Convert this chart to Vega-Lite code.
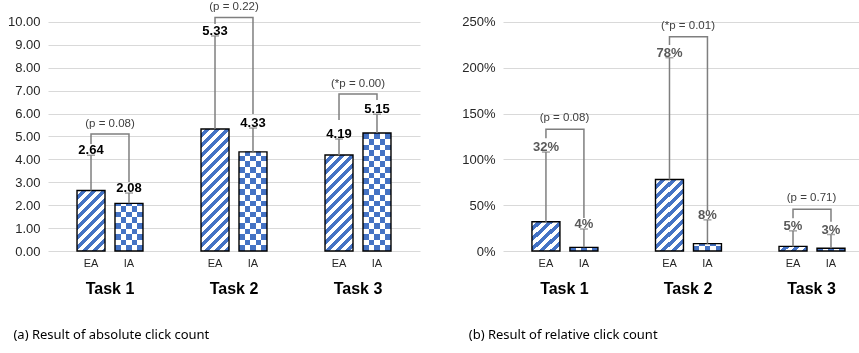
{
"$schema": "https://vega.github.io/schema/vega-lite/v6.json",
"padding": {"left": 7, "top": 0, "right": 0, "bottom": 0},
"background": "#ffffff",
"spacing": 41,
"config": {"view": {"stroke": null}, "font": "Liberation Sans"},
"datasets": {
 "absMain": [
  {"task": "Task 1", "group": "EA", "mean": 2.64, "upper": 4.18, "label": "2.64"},
  {"task": "Task 1", "group": "IA", "mean": 2.08, "upper": 2.53, "label": "2.08"},
  {"task": "Task 2", "group": "EA", "mean": 5.33, "upper": 9.39, "label": "5.33"},
  {"task": "Task 2", "group": "IA", "mean": 4.33, "upper": 5.37, "label": "4.33"},
  {"task": "Task 3", "group": "EA", "mean": 4.19, "upper": 4.89, "label": "4.19"},
  {"task": "Task 3", "group": "IA", "mean": 5.15, "upper": 5.97, "label": "5.15"}
 ],
 "absBr": [
  {"task": "Task 1", "group": "EA", "val": 4.67, "ord": 0},
  {"task": "Task 1", "group": "EA", "val": 5.11, "ord": 1},
  {"task": "Task 1", "group": "IA", "val": 5.11, "ord": 2},
  {"task": "Task 1", "group": "IA", "val": 3.01, "ord": 3},
  {"task": "Task 2", "group": "EA", "val": 9.91, "ord": 0},
  {"task": "Task 2", "group": "EA", "val": 10.2, "ord": 1},
  {"task": "Task 2", "group": "IA", "val": 10.2, "ord": 2},
  {"task": "Task 2", "group": "IA", "val": 5.98, "ord": 3},
  {"task": "Task 3", "group": "EA", "val": 5.72, "ord": 0},
  {"task": "Task 3", "group": "EA", "val": 6.86, "ord": 1},
  {"task": "Task 3", "group": "IA", "val": 6.86, "ord": 2},
  {"task": "Task 3", "group": "IA", "val": 6.59, "ord": 3}
 ],
 "absP": [
  {"task": "Task 1", "level": 5.11, "p": "(p = 0.08)"},
  {"task": "Task 2", "level": 10.2, "p": "(p = 0.22)"},
  {"task": "Task 3", "level": 6.86, "p": "(*p = 0.00)"}
 ],
 "relMain": [
  {"task": "Task 1", "group": "EA", "mean": 32, "upper": 108, "label": "32%"},
  {"task": "Task 1", "group": "IA", "mean": 4, "upper": 24, "label": "4%"},
  {"task": "Task 2", "group": "EA", "mean": 78, "upper": 211, "label": "78%"},
  {"task": "Task 2", "group": "IA", "mean": 8, "upper": 34, "label": "8%"},
  {"task": "Task 3", "group": "EA", "mean": 5, "upper": 22, "label": "5%"},
  {"task": "Task 3", "group": "IA", "mean": 3, "upper": 18, "label": "3%"}
 ],
 "relBr": [
  {"task": "Task 1", "group": "EA", "val": 123, "ord": 0},
  {"task": "Task 1", "group": "EA", "val": 133, "ord": 1},
  {"task": "Task 1", "group": "IA", "val": 133, "ord": 2},
  {"task": "Task 1", "group": "IA", "val": 36, "ord": 3},
  {"task": "Task 2", "group": "EA", "val": 225, "ord": 0},
  {"task": "Task 2", "group": "EA", "val": 234, "ord": 1},
  {"task": "Task 2", "group": "IA", "val": 234, "ord": 2},
  {"task": "Task 2", "group": "IA", "val": 44.8, "ord": 3},
  {"task": "Task 3", "group": "EA", "val": 35.7, "ord": 0},
  {"task": "Task 3", "group": "EA", "val": 45.5, "ord": 1},
  {"task": "Task 3", "group": "IA", "val": 45.5, "ord": 2},
  {"task": "Task 3", "group": "IA", "val": 32, "ord": 3}
 ],
 "relP": [
  {"task": "Task 1", "level": 133, "p": "(p = 0.08)"},
  {"task": "Task 2", "level": 234, "p": "(*p = 0.01)"},
  {"task": "Task 3", "level": 45.5, "p": "(p = 0.71)"}
 ]
},
"hconcat": [
 {
  "width": 372, "height": 251,
  "data": {"name": "absMain"},
  "title": {"text": "(a) Result of absolute click count", "orient": "bottom", "anchor": "start", "frame": "bounds", "dx": 6, "offset": 33, "font": "Noto Sans", "fontSize": 13, "fontWeight": "normal", "color": "#000"},
  "encoding": {"x": {"field": "task", "type": "nominal", "title": null, "scale": {"paddingInner": 0.468, "paddingOuter": 0.234}, "axis": {"labelAngle": 0, "labelFontSize": 16, "labelFontWeight": "bold", "labelColor": "#000", "labelPadding": 29, "ticks": false, "domain": false, "grid": false}}},
  "layer": [
   {"transform": [{"filter": "datum.group === 'EA'"}],
    "mark": {"type": "bar"},
    "encoding": {
     "xOffset": {"field": "group", "type": "nominal", "scale": {"paddingInner": 0.263, "paddingOuter": 0}},
     "y": {"field": "mean", "type": "quantitative", "title": null, "scale": {"domain": [0, 10.96], "nice": false, "zero": true}, "axis": {"values": [0,1,2,3,4,5,6,7,8,9,10], "format": ".2f", "labelOverlap": false, "labelFontSize": 13, "labelColor": "#262626", "labelPadding": 8, "ticks": false, "domain": false, "gridColor": "#d9d9d9", "title": null}},
     "fill": {"condition": [
      {"test": "datum.task === 'Task 1'", "value": {"gradient": "linear", "x1": 0, "y1": 0, "x2": 1.0091, "y2": 2.1791, "stops": [{"offset":0,"color":"#fff"},{"offset":0.03125,"color":"#fff"},{"offset":0.03125,"color":"#4472c4"},{"offset":0.0625,"color":"#4472c4"},{"offset":0.0625,"color":"#fff"},{"offset":0.09375,"color":"#fff"},{"offset":0.09375,"color":"#4472c4"},{"offset":0.125,"color":"#4472c4"},{"offset":0.125,"color":"#fff"},{"offset":0.15625,"color":"#fff"},{"offset":0.15625,"color":"#4472c4"},{"offset":0.1875,"color":"#4472c4"},{"offset":0.1875,"color":"#fff"},{"offset":0.21875,"color":"#fff"},{"offset":0.21875,"color":"#4472c4"},{"offset":0.25,"color":"#4472c4"},{"offset":0.25,"color":"#fff"},{"offset":0.28125,"color":"#fff"},{"offset":0.28125,"color":"#4472c4"},{"offset":0.3125,"color":"#4472c4"},{"offset":0.3125,"color":"#fff"},{"offset":0.34375,"color":"#fff"},{"offset":0.34375,"color":"#4472c4"},{"offset":0.375,"color":"#4472c4"},{"offset":0.375,"color":"#fff"},{"offset":0.40625,"color":"#fff"},{"offset":0.40625,"color":"#4472c4"},{"offset":0.4375,"color":"#4472c4"},{"offset":0.4375,"color":"#fff"},{"offset":0.46875,"color":"#fff"},{"offset":0.46875,"color":"#4472c4"},{"offset":0.5,"color":"#4472c4"},{"offset":0.5,"color":"#fff"},{"offset":0.53125,"color":"#fff"},{"offset":0.53125,"color":"#4472c4"},{"offset":0.5625,"color":"#4472c4"},{"offset":0.5625,"color":"#fff"},{"offset":0.59375,"color":"#fff"},{"offset":0.59375,"color":"#4472c4"},{"offset":0.625,"color":"#4472c4"},{"offset":0.625,"color":"#fff"},{"offset":0.65625,"color":"#fff"},{"offset":0.65625,"color":"#4472c4"},{"offset":0.6875,"color":"#4472c4"},{"offset":0.6875,"color":"#fff"},{"offset":0.71875,"color":"#fff"},{"offset":0.71875,"color":"#4472c4"},{"offset":0.75,"color":"#4472c4"},{"offset":0.75,"color":"#fff"},{"offset":0.78125,"color":"#fff"},{"offset":0.78125,"color":"#4472c4"},{"offset":0.8125,"color":"#4472c4"},{"offset":0.8125,"color":"#fff"},{"offset":0.84375,"color":"#fff"},{"offset":0.84375,"color":"#4472c4"},{"offset":0.875,"color":"#4472c4"},{"offset":0.875,"color":"#fff"},{"offset":0.90625,"color":"#fff"},{"offset":0.90625,"color":"#4472c4"},{"offset":0.9375,"color":"#4472c4"},{"offset":0.9375,"color":"#fff"},{"offset":0.96875,"color":"#fff"},{"offset":0.96875,"color":"#4472c4"},{"offset":1,"color":"#4472c4"}]}},
      {"test": "datum.task === 'Task 2'", "value": {"gradient": "linear", "x1": 0, "y1": 0, "x2": 0.2857, "y2": 1.2453, "stops": [{"offset":0,"color":"#fff"},{"offset":0.03125,"color":"#fff"},{"offset":0.03125,"color":"#4472c4"},{"offset":0.0625,"color":"#4472c4"},{"offset":0.0625,"color":"#fff"},{"offset":0.09375,"color":"#fff"},{"offset":0.09375,"color":"#4472c4"},{"offset":0.125,"color":"#4472c4"},{"offset":0.125,"color":"#fff"},{"offset":0.15625,"color":"#fff"},{"offset":0.15625,"color":"#4472c4"},{"offset":0.1875,"color":"#4472c4"},{"offset":0.1875,"color":"#fff"},{"offset":0.21875,"color":"#fff"},{"offset":0.21875,"color":"#4472c4"},{"offset":0.25,"color":"#4472c4"},{"offset":0.25,"color":"#fff"},{"offset":0.28125,"color":"#fff"},{"offset":0.28125,"color":"#4472c4"},{"offset":0.3125,"color":"#4472c4"},{"offset":0.3125,"color":"#fff"},{"offset":0.34375,"color":"#fff"},{"offset":0.34375,"color":"#4472c4"},{"offset":0.375,"color":"#4472c4"},{"offset":0.375,"color":"#fff"},{"offset":0.40625,"color":"#fff"},{"offset":0.40625,"color":"#4472c4"},{"offset":0.4375,"color":"#4472c4"},{"offset":0.4375,"color":"#fff"},{"offset":0.46875,"color":"#fff"},{"offset":0.46875,"color":"#4472c4"},{"offset":0.5,"color":"#4472c4"},{"offset":0.5,"color":"#fff"},{"offset":0.53125,"color":"#fff"},{"offset":0.53125,"color":"#4472c4"},{"offset":0.5625,"color":"#4472c4"},{"offset":0.5625,"color":"#fff"},{"offset":0.59375,"color":"#fff"},{"offset":0.59375,"color":"#4472c4"},{"offset":0.625,"color":"#4472c4"},{"offset":0.625,"color":"#fff"},{"offset":0.65625,"color":"#fff"},{"offset":0.65625,"color":"#4472c4"},{"offset":0.6875,"color":"#4472c4"},{"offset":0.6875,"color":"#fff"},{"offset":0.71875,"color":"#fff"},{"offset":0.71875,"color":"#4472c4"},{"offset":0.75,"color":"#4472c4"},{"offset":0.75,"color":"#fff"},{"offset":0.78125,"color":"#fff"},{"offset":0.78125,"color":"#4472c4"},{"offset":0.8125,"color":"#4472c4"},{"offset":0.8125,"color":"#fff"},{"offset":0.84375,"color":"#fff"},{"offset":0.84375,"color":"#4472c4"},{"offset":0.875,"color":"#4472c4"},{"offset":0.875,"color":"#fff"},{"offset":0.90625,"color":"#fff"},{"offset":0.90625,"color":"#4472c4"},{"offset":0.9375,"color":"#4472c4"},{"offset":0.9375,"color":"#fff"},{"offset":0.96875,"color":"#fff"},{"offset":0.96875,"color":"#4472c4"},{"offset":1,"color":"#4472c4"}]}}
     ],
     "value": {"gradient": "linear", "x1": 0, "y1": 0, "x2": 0.4484, "y2": 1.5367, "stops": [{"offset":0,"color":"#fff"},{"offset":0.03125,"color":"#fff"},{"offset":0.03125,"color":"#4472c4"},{"offset":0.0625,"color":"#4472c4"},{"offset":0.0625,"color":"#fff"},{"offset":0.09375,"color":"#fff"},{"offset":0.09375,"color":"#4472c4"},{"offset":0.125,"color":"#4472c4"},{"offset":0.125,"color":"#fff"},{"offset":0.15625,"color":"#fff"},{"offset":0.15625,"color":"#4472c4"},{"offset":0.1875,"color":"#4472c4"},{"offset":0.1875,"color":"#fff"},{"offset":0.21875,"color":"#fff"},{"offset":0.21875,"color":"#4472c4"},{"offset":0.25,"color":"#4472c4"},{"offset":0.25,"color":"#fff"},{"offset":0.28125,"color":"#fff"},{"offset":0.28125,"color":"#4472c4"},{"offset":0.3125,"color":"#4472c4"},{"offset":0.3125,"color":"#fff"},{"offset":0.34375,"color":"#fff"},{"offset":0.34375,"color":"#4472c4"},{"offset":0.375,"color":"#4472c4"},{"offset":0.375,"color":"#fff"},{"offset":0.40625,"color":"#fff"},{"offset":0.40625,"color":"#4472c4"},{"offset":0.4375,"color":"#4472c4"},{"offset":0.4375,"color":"#fff"},{"offset":0.46875,"color":"#fff"},{"offset":0.46875,"color":"#4472c4"},{"offset":0.5,"color":"#4472c4"},{"offset":0.5,"color":"#fff"},{"offset":0.53125,"color":"#fff"},{"offset":0.53125,"color":"#4472c4"},{"offset":0.5625,"color":"#4472c4"},{"offset":0.5625,"color":"#fff"},{"offset":0.59375,"color":"#fff"},{"offset":0.59375,"color":"#4472c4"},{"offset":0.625,"color":"#4472c4"},{"offset":0.625,"color":"#fff"},{"offset":0.65625,"color":"#fff"},{"offset":0.65625,"color":"#4472c4"},{"offset":0.6875,"color":"#4472c4"},{"offset":0.6875,"color":"#fff"},{"offset":0.71875,"color":"#fff"},{"offset":0.71875,"color":"#4472c4"},{"offset":0.75,"color":"#4472c4"},{"offset":0.75,"color":"#fff"},{"offset":0.78125,"color":"#fff"},{"offset":0.78125,"color":"#4472c4"},{"offset":0.8125,"color":"#4472c4"},{"offset":0.8125,"color":"#fff"},{"offset":0.84375,"color":"#fff"},{"offset":0.84375,"color":"#4472c4"},{"offset":0.875,"color":"#4472c4"},{"offset":0.875,"color":"#fff"},{"offset":0.90625,"color":"#fff"},{"offset":0.90625,"color":"#4472c4"},{"offset":0.9375,"color":"#4472c4"},{"offset":0.9375,"color":"#fff"},{"offset":0.96875,"color":"#fff"},{"offset":0.96875,"color":"#4472c4"},{"offset":1,"color":"#4472c4"}]}}
    }},
   {"transform": [{"filter": "datum.group === 'IA'"}],
    "mark": {"type": "bar", "fill": {"gradient": "linear", "x1": 0, "y1": 0, "x2": 1, "y2": 0, "stops": [{"offset":0,"color":"#fff"},{"offset":0.2,"color":"#fff"},{"offset":0.2,"color":"#000"},{"offset":0.4,"color":"#000"},{"offset":0.4,"color":"#fff"},{"offset":0.6,"color":"#fff"},{"offset":0.6,"color":"#000"},{"offset":0.8,"color":"#000"},{"offset":0.8,"color":"#fff"},{"offset":1,"color":"#fff"}]}},
    "encoding": {
     "xOffset": {"field": "group", "type": "nominal"},
     "y": {"field": "mean", "type": "quantitative", "title": null, "scale": {"domain": [0, 10.96], "nice": false, "zero": true}, "axis": {"values": [0,1,2,3,4,5,6,7,8,9,10], "format": ".2f", "labelOverlap": false, "labelFontSize": 13, "labelColor": "#262626", "labelPadding": 8, "ticks": false, "domain": false, "gridColor": "#d9d9d9", "title": null}}
    }},
   {"transform": [{"filter": "datum.group === 'IA'"}],
    "mark": {"type": "bar", "blend": "difference"},
    "encoding": {
     "xOffset": {"field": "group", "type": "nominal"},
     "y": {"field": "mean", "type": "quantitative", "title": null, "scale": {"domain": [0, 10.96], "nice": false, "zero": true}, "axis": {"values": [0,1,2,3,4,5,6,7,8,9,10], "format": ".2f", "labelOverlap": false, "labelFontSize": 13, "labelColor": "#262626", "labelPadding": 8, "ticks": false, "domain": false, "gridColor": "#d9d9d9", "title": null}},
     "fill": {"condition": [
      {"test": "datum.task === 'Task 1'", "value": {"gradient": "linear", "x1": 0, "y1": 1, "x2": 0, "y2": -1.8217, "stops": [{"offset":0,"color":"#fff"},{"offset":0.0416667,"color":"#fff"},{"offset":0.0416667,"color":"#000"},{"offset":0.0833333,"color":"#000"},{"offset":0.0833333,"color":"#fff"},{"offset":0.125,"color":"#fff"},{"offset":0.125,"color":"#000"},{"offset":0.1666667,"color":"#000"},{"offset":0.1666667,"color":"#fff"},{"offset":0.2083333,"color":"#fff"},{"offset":0.2083333,"color":"#000"},{"offset":0.25,"color":"#000"},{"offset":0.25,"color":"#fff"},{"offset":0.2916667,"color":"#fff"},{"offset":0.2916667,"color":"#000"},{"offset":0.3333333,"color":"#000"},{"offset":0.3333333,"color":"#fff"},{"offset":0.375,"color":"#fff"},{"offset":0.375,"color":"#000"},{"offset":0.4166667,"color":"#000"},{"offset":0.4166667,"color":"#fff"},{"offset":0.4583333,"color":"#fff"},{"offset":0.4583333,"color":"#000"},{"offset":0.5,"color":"#000"},{"offset":0.5,"color":"#fff"},{"offset":0.5416667,"color":"#fff"},{"offset":0.5416667,"color":"#000"},{"offset":0.5833333,"color":"#000"},{"offset":0.5833333,"color":"#fff"},{"offset":0.625,"color":"#fff"},{"offset":0.625,"color":"#000"},{"offset":0.6666667,"color":"#000"},{"offset":0.6666667,"color":"#fff"},{"offset":0.7083333,"color":"#fff"},{"offset":0.7083333,"color":"#000"},{"offset":0.75,"color":"#000"},{"offset":0.75,"color":"#fff"},{"offset":0.7916667,"color":"#fff"},{"offset":0.7916667,"color":"#000"},{"offset":0.8333333,"color":"#000"},{"offset":0.8333333,"color":"#fff"},{"offset":0.875,"color":"#fff"},{"offset":0.875,"color":"#000"},{"offset":0.9166667,"color":"#000"},{"offset":0.9166667,"color":"#fff"},{"offset":0.9583333,"color":"#fff"},{"offset":0.9583333,"color":"#000"},{"offset":1,"color":"#000"}]}},
      {"test": "datum.task === 'Task 2'", "value": {"gradient": "linear", "x1": 0, "y1": 1, "x2": 0, "y2": -0.3554, "stops": [{"offset":0,"color":"#fff"},{"offset":0.0416667,"color":"#fff"},{"offset":0.0416667,"color":"#000"},{"offset":0.0833333,"color":"#000"},{"offset":0.0833333,"color":"#fff"},{"offset":0.125,"color":"#fff"},{"offset":0.125,"color":"#000"},{"offset":0.1666667,"color":"#000"},{"offset":0.1666667,"color":"#fff"},{"offset":0.2083333,"color":"#fff"},{"offset":0.2083333,"color":"#000"},{"offset":0.25,"color":"#000"},{"offset":0.25,"color":"#fff"},{"offset":0.2916667,"color":"#fff"},{"offset":0.2916667,"color":"#000"},{"offset":0.3333333,"color":"#000"},{"offset":0.3333333,"color":"#fff"},{"offset":0.375,"color":"#fff"},{"offset":0.375,"color":"#000"},{"offset":0.4166667,"color":"#000"},{"offset":0.4166667,"color":"#fff"},{"offset":0.4583333,"color":"#fff"},{"offset":0.4583333,"color":"#000"},{"offset":0.5,"color":"#000"},{"offset":0.5,"color":"#fff"},{"offset":0.5416667,"color":"#fff"},{"offset":0.5416667,"color":"#000"},{"offset":0.5833333,"color":"#000"},{"offset":0.5833333,"color":"#fff"},{"offset":0.625,"color":"#fff"},{"offset":0.625,"color":"#000"},{"offset":0.6666667,"color":"#000"},{"offset":0.6666667,"color":"#fff"},{"offset":0.7083333,"color":"#fff"},{"offset":0.7083333,"color":"#000"},{"offset":0.75,"color":"#000"},{"offset":0.75,"color":"#fff"},{"offset":0.7916667,"color":"#fff"},{"offset":0.7916667,"color":"#000"},{"offset":0.8333333,"color":"#000"},{"offset":0.8333333,"color":"#fff"},{"offset":0.875,"color":"#fff"},{"offset":0.875,"color":"#000"},{"offset":0.9166667,"color":"#000"},{"offset":0.9166667,"color":"#fff"},{"offset":0.9583333,"color":"#fff"},{"offset":0.9583333,"color":"#000"},{"offset":1,"color":"#000"}]}}
     ],
     "value": {"gradient": "linear", "x1": 0, "y1": 1, "x2": 0, "y2": -0.1396, "stops": [{"offset":0,"color":"#fff"},{"offset":0.0416667,"color":"#fff"},{"offset":0.0416667,"color":"#000"},{"offset":0.0833333,"color":"#000"},{"offset":0.0833333,"color":"#fff"},{"offset":0.125,"color":"#fff"},{"offset":0.125,"color":"#000"},{"offset":0.1666667,"color":"#000"},{"offset":0.1666667,"color":"#fff"},{"offset":0.2083333,"color":"#fff"},{"offset":0.2083333,"color":"#000"},{"offset":0.25,"color":"#000"},{"offset":0.25,"color":"#fff"},{"offset":0.2916667,"color":"#fff"},{"offset":0.2916667,"color":"#000"},{"offset":0.3333333,"color":"#000"},{"offset":0.3333333,"color":"#fff"},{"offset":0.375,"color":"#fff"},{"offset":0.375,"color":"#000"},{"offset":0.4166667,"color":"#000"},{"offset":0.4166667,"color":"#fff"},{"offset":0.4583333,"color":"#fff"},{"offset":0.4583333,"color":"#000"},{"offset":0.5,"color":"#000"},{"offset":0.5,"color":"#fff"},{"offset":0.5416667,"color":"#fff"},{"offset":0.5416667,"color":"#000"},{"offset":0.5833333,"color":"#000"},{"offset":0.5833333,"color":"#fff"},{"offset":0.625,"color":"#fff"},{"offset":0.625,"color":"#000"},{"offset":0.6666667,"color":"#000"},{"offset":0.6666667,"color":"#fff"},{"offset":0.7083333,"color":"#fff"},{"offset":0.7083333,"color":"#000"},{"offset":0.75,"color":"#000"},{"offset":0.75,"color":"#fff"},{"offset":0.7916667,"color":"#fff"},{"offset":0.7916667,"color":"#000"},{"offset":0.8333333,"color":"#000"},{"offset":0.8333333,"color":"#fff"},{"offset":0.875,"color":"#fff"},{"offset":0.875,"color":"#000"},{"offset":0.9166667,"color":"#000"},{"offset":0.9166667,"color":"#fff"},{"offset":0.9583333,"color":"#fff"},{"offset":0.9583333,"color":"#000"},{"offset":1,"color":"#000"}]}}
    }},
   {"transform": [{"filter": "datum.group === 'IA'"}],
    "mark": {"type": "bar", "fill": "#4472c4", "blend": "screen"},
    "encoding": {
     "xOffset": {"field": "group", "type": "nominal"},
     "y": {"field": "mean", "type": "quantitative", "title": null, "scale": {"domain": [0, 10.96], "nice": false, "zero": true}, "axis": {"values": [0,1,2,3,4,5,6,7,8,9,10], "format": ".2f", "labelOverlap": false, "labelFontSize": 13, "labelColor": "#262626", "labelPadding": 8, "ticks": false, "domain": false, "gridColor": "#d9d9d9", "title": null}}
    }},
   {"mark": {"type": "bar", "filled": false, "stroke": "#000", "strokeWidth": 1.4},
    "encoding": {
     "xOffset": {"field": "group", "type": "nominal"},
     "y": {"field": "mean", "type": "quantitative", "title": null, "scale": {"domain": [0, 10.96], "nice": false, "zero": true}, "axis": {"values": [0,1,2,3,4,5,6,7,8,9,10], "format": ".2f", "labelOverlap": false, "labelFontSize": 13, "labelColor": "#262626", "labelPadding": 8, "ticks": false, "domain": false, "gridColor": "#d9d9d9", "title": null}}
    }},
   {"mark": {"type": "rule", "color": "#7f7f7f", "strokeWidth": 1.5},
    "encoding": {
     "xOffset": {"field": "group", "type": "nominal"},
     "y": {"field": "mean", "type": "quantitative", "title": null, "scale": {"domain": [0, 10.96], "nice": false, "zero": true}, "axis": {"values": [0,1,2,3,4,5,6,7,8,9,10], "format": ".2f", "labelOverlap": false, "labelFontSize": 13, "labelColor": "#262626", "labelPadding": 8, "ticks": false, "domain": false, "gridColor": "#d9d9d9", "title": null}},
     "y2": {"field": "upper"}
    }},
   {"mark": {"type": "tick", "color": "#7f7f7f", "size": 8, "thickness": 1.5},
    "encoding": {
     "xOffset": {"field": "group", "type": "nominal"},
     "y": {"field": "upper", "type": "quantitative", "title": null, "scale": {"domain": [0, 10.96], "nice": false, "zero": true}, "axis": {"values": [0,1,2,3,4,5,6,7,8,9,10], "format": ".2f", "labelOverlap": false, "labelFontSize": 13, "labelColor": "#262626", "labelPadding": 8, "ticks": false, "domain": false, "gridColor": "#d9d9d9", "title": null}}
    }},
   {"mark": {"type": "text", "fontSize": 13, "fontWeight": "bold", "color": "#000", "baseline": "alphabetic", "dy": -1},
    "encoding": {
     "xOffset": {"field": "group", "type": "nominal"},
     "y": {"field": "upper", "type": "quantitative", "title": null, "scale": {"domain": [0, 10.96], "nice": false, "zero": true}, "axis": {"values": [0,1,2,3,4,5,6,7,8,9,10], "format": ".2f", "labelOverlap": false, "labelFontSize": 13, "labelColor": "#262626", "labelPadding": 8, "ticks": false, "domain": false, "gridColor": "#d9d9d9", "title": null}},
     "text": {"field": "label"}
    }},
   {"mark": {"type": "text", "fontSize": 11, "color": "#262626", "baseline": "middle", "dy": 13},
    "encoding": {
     "xOffset": {"field": "group", "type": "nominal"},
     "y": {"datum": 0, "type": "quantitative", "title": null, "scale": {"domain": [0, 10.96], "nice": false, "zero": true}, "axis": {"values": [0,1,2,3,4,5,6,7,8,9,10], "format": ".2f", "labelOverlap": false, "labelFontSize": 13, "labelColor": "#262626", "labelPadding": 8, "ticks": false, "domain": false, "gridColor": "#d9d9d9", "title": null}},
     "text": {"field": "group"}
    }},
   {"data": {"name": "absBr"},
    "mark": {"type": "line", "color": "#7f7f7f", "strokeWidth": 1.5},
    "encoding": {
     "xOffset": {"field": "group", "type": "nominal"},
     "y": {"field": "val", "type": "quantitative", "title": null, "scale": {"domain": [0, 10.96], "nice": false, "zero": true}, "axis": {"values": [0,1,2,3,4,5,6,7,8,9,10], "format": ".2f", "labelOverlap": false, "labelFontSize": 13, "labelColor": "#262626", "labelPadding": 8, "ticks": false, "domain": false, "gridColor": "#d9d9d9", "title": null}},
     "order": {"field": "ord"},
     "detail": {"field": "task"}
    }},
   {"data": {"name": "absP"},
    "mark": {"type": "text", "fontSize": 11.5, "color": "#404040", "baseline": "middle", "dy": -10, "clip": true},
    "encoding": {
     "y": {"field": "level", "type": "quantitative", "title": null, "scale": {"domain": [0, 10.96], "nice": false, "zero": true}, "axis": {"values": [0,1,2,3,4,5,6,7,8,9,10], "format": ".2f", "labelOverlap": false, "labelFontSize": 13, "labelColor": "#262626", "labelPadding": 8, "ticks": false, "domain": false, "gridColor": "#d9d9d9", "title": null}},
     "text": {"field": "p"}
    }}
  ]
 },
 {
  "width": 358, "height": 251,
  "data": {"name": "relMain"},
  "title": {"text": "(b) Result of relative click count", "orient": "bottom", "anchor": "start", "frame": "bounds", "dx": 7, "offset": 33, "font": "Noto Sans", "fontSize": 13, "fontWeight": "normal", "color": "#000"},
  "encoding": {"x": {"field": "task", "type": "nominal", "title": null, "scale": {"paddingInner": 0.474, "paddingOuter": 0.186, "align": 0.63}, "axis": {"labelAngle": 0, "labelFontSize": 16, "labelFontWeight": "bold", "labelColor": "#000", "labelPadding": 29, "ticks": false, "domain": false, "grid": false}}},
  "layer": [
   {"transform": [{"filter": "datum.group === 'EA'"}],
    "mark": {"type": "bar"},
    "encoding": {
     "xOffset": {"field": "group", "type": "nominal", "scale": {"paddingInner": 0.333, "paddingOuter": 0}},
     "y": {"field": "mean", "type": "quantitative", "title": null, "scale": {"domain": [0, 274], "nice": false, "zero": true}, "axis": {"values": [0,50,100,150,200,250], "labelExpr": "datum.value + '%'", "labelOverlap": false, "labelFontSize": 13, "labelColor": "#262626", "labelPadding": 8, "ticks": false, "domain": false, "gridColor": "#d9d9d9", "title": null}},
     "fill": {"condition": [
      {"test": "datum.task === 'Task 1'", "value": {"gradient": "linear", "x1": 0, "y1": 0, "x2": 2.71, "y2": 3.055, "stops": [{"offset":0,"color":"#fff"},{"offset":0.03125,"color":"#fff"},{"offset":0.03125,"color":"#4472c4"},{"offset":0.0625,"color":"#4472c4"},{"offset":0.0625,"color":"#fff"},{"offset":0.09375,"color":"#fff"},{"offset":0.09375,"color":"#4472c4"},{"offset":0.125,"color":"#4472c4"},{"offset":0.125,"color":"#fff"},{"offset":0.15625,"color":"#fff"},{"offset":0.15625,"color":"#4472c4"},{"offset":0.1875,"color":"#4472c4"},{"offset":0.1875,"color":"#fff"},{"offset":0.21875,"color":"#fff"},{"offset":0.21875,"color":"#4472c4"},{"offset":0.25,"color":"#4472c4"},{"offset":0.25,"color":"#fff"},{"offset":0.28125,"color":"#fff"},{"offset":0.28125,"color":"#4472c4"},{"offset":0.3125,"color":"#4472c4"},{"offset":0.3125,"color":"#fff"},{"offset":0.34375,"color":"#fff"},{"offset":0.34375,"color":"#4472c4"},{"offset":0.375,"color":"#4472c4"},{"offset":0.375,"color":"#fff"},{"offset":0.40625,"color":"#fff"},{"offset":0.40625,"color":"#4472c4"},{"offset":0.4375,"color":"#4472c4"},{"offset":0.4375,"color":"#fff"},{"offset":0.46875,"color":"#fff"},{"offset":0.46875,"color":"#4472c4"},{"offset":0.5,"color":"#4472c4"},{"offset":0.5,"color":"#fff"},{"offset":0.53125,"color":"#fff"},{"offset":0.53125,"color":"#4472c4"},{"offset":0.5625,"color":"#4472c4"},{"offset":0.5625,"color":"#fff"},{"offset":0.59375,"color":"#fff"},{"offset":0.59375,"color":"#4472c4"},{"offset":0.625,"color":"#4472c4"},{"offset":0.625,"color":"#fff"},{"offset":0.65625,"color":"#fff"},{"offset":0.65625,"color":"#4472c4"},{"offset":0.6875,"color":"#4472c4"},{"offset":0.6875,"color":"#fff"},{"offset":0.71875,"color":"#fff"},{"offset":0.71875,"color":"#4472c4"},{"offset":0.75,"color":"#4472c4"},{"offset":0.75,"color":"#fff"},{"offset":0.78125,"color":"#fff"},{"offset":0.78125,"color":"#4472c4"},{"offset":0.8125,"color":"#4472c4"},{"offset":0.8125,"color":"#fff"},{"offset":0.84375,"color":"#fff"},{"offset":0.84375,"color":"#4472c4"},{"offset":0.875,"color":"#4472c4"},{"offset":0.875,"color":"#fff"},{"offset":0.90625,"color":"#fff"},{"offset":0.90625,"color":"#4472c4"},{"offset":0.9375,"color":"#4472c4"},{"offset":0.9375,"color":"#fff"},{"offset":0.96875,"color":"#fff"},{"offset":0.96875,"color":"#4472c4"},{"offset":1,"color":"#4472c4"}]}},
      {"test": "datum.task === 'Task 2'", "value": {"gradient": "linear", "x1": 0, "y1": 0, "x2": 0.7194, "y2": 1.9773, "stops": [{"offset":0,"color":"#fff"},{"offset":0.03125,"color":"#fff"},{"offset":0.03125,"color":"#4472c4"},{"offset":0.0625,"color":"#4472c4"},{"offset":0.0625,"color":"#fff"},{"offset":0.09375,"color":"#fff"},{"offset":0.09375,"color":"#4472c4"},{"offset":0.125,"color":"#4472c4"},{"offset":0.125,"color":"#fff"},{"offset":0.15625,"color":"#fff"},{"offset":0.15625,"color":"#4472c4"},{"offset":0.1875,"color":"#4472c4"},{"offset":0.1875,"color":"#fff"},{"offset":0.21875,"color":"#fff"},{"offset":0.21875,"color":"#4472c4"},{"offset":0.25,"color":"#4472c4"},{"offset":0.25,"color":"#fff"},{"offset":0.28125,"color":"#fff"},{"offset":0.28125,"color":"#4472c4"},{"offset":0.3125,"color":"#4472c4"},{"offset":0.3125,"color":"#fff"},{"offset":0.34375,"color":"#fff"},{"offset":0.34375,"color":"#4472c4"},{"offset":0.375,"color":"#4472c4"},{"offset":0.375,"color":"#fff"},{"offset":0.40625,"color":"#fff"},{"offset":0.40625,"color":"#4472c4"},{"offset":0.4375,"color":"#4472c4"},{"offset":0.4375,"color":"#fff"},{"offset":0.46875,"color":"#fff"},{"offset":0.46875,"color":"#4472c4"},{"offset":0.5,"color":"#4472c4"},{"offset":0.5,"color":"#fff"},{"offset":0.53125,"color":"#fff"},{"offset":0.53125,"color":"#4472c4"},{"offset":0.5625,"color":"#4472c4"},{"offset":0.5625,"color":"#fff"},{"offset":0.59375,"color":"#fff"},{"offset":0.59375,"color":"#4472c4"},{"offset":0.625,"color":"#4472c4"},{"offset":0.625,"color":"#fff"},{"offset":0.65625,"color":"#fff"},{"offset":0.65625,"color":"#4472c4"},{"offset":0.6875,"color":"#4472c4"},{"offset":0.6875,"color":"#fff"},{"offset":0.71875,"color":"#fff"},{"offset":0.71875,"color":"#4472c4"},{"offset":0.75,"color":"#4472c4"},{"offset":0.75,"color":"#fff"},{"offset":0.78125,"color":"#fff"},{"offset":0.78125,"color":"#4472c4"},{"offset":0.8125,"color":"#4472c4"},{"offset":0.8125,"color":"#fff"},{"offset":0.84375,"color":"#fff"},{"offset":0.84375,"color":"#4472c4"},{"offset":0.875,"color":"#4472c4"},{"offset":0.875,"color":"#fff"},{"offset":0.90625,"color":"#fff"},{"offset":0.90625,"color":"#4472c4"},{"offset":0.9375,"color":"#4472c4"},{"offset":0.9375,"color":"#fff"},{"offset":0.96875,"color":"#fff"},{"offset":0.96875,"color":"#4472c4"},{"offset":1,"color":"#4472c4"}]}}
     ],
     "value": {"gradient": "linear", "x1": 0, "y1": 0, "x2": 5.968, "y2": 1.0514, "stops": [{"offset":0,"color":"#fff"},{"offset":0.03125,"color":"#fff"},{"offset":0.03125,"color":"#4472c4"},{"offset":0.0625,"color":"#4472c4"},{"offset":0.0625,"color":"#fff"},{"offset":0.09375,"color":"#fff"},{"offset":0.09375,"color":"#4472c4"},{"offset":0.125,"color":"#4472c4"},{"offset":0.125,"color":"#fff"},{"offset":0.15625,"color":"#fff"},{"offset":0.15625,"color":"#4472c4"},{"offset":0.1875,"color":"#4472c4"},{"offset":0.1875,"color":"#fff"},{"offset":0.21875,"color":"#fff"},{"offset":0.21875,"color":"#4472c4"},{"offset":0.25,"color":"#4472c4"},{"offset":0.25,"color":"#fff"},{"offset":0.28125,"color":"#fff"},{"offset":0.28125,"color":"#4472c4"},{"offset":0.3125,"color":"#4472c4"},{"offset":0.3125,"color":"#fff"},{"offset":0.34375,"color":"#fff"},{"offset":0.34375,"color":"#4472c4"},{"offset":0.375,"color":"#4472c4"},{"offset":0.375,"color":"#fff"},{"offset":0.40625,"color":"#fff"},{"offset":0.40625,"color":"#4472c4"},{"offset":0.4375,"color":"#4472c4"},{"offset":0.4375,"color":"#fff"},{"offset":0.46875,"color":"#fff"},{"offset":0.46875,"color":"#4472c4"},{"offset":0.5,"color":"#4472c4"},{"offset":0.5,"color":"#fff"},{"offset":0.53125,"color":"#fff"},{"offset":0.53125,"color":"#4472c4"},{"offset":0.5625,"color":"#4472c4"},{"offset":0.5625,"color":"#fff"},{"offset":0.59375,"color":"#fff"},{"offset":0.59375,"color":"#4472c4"},{"offset":0.625,"color":"#4472c4"},{"offset":0.625,"color":"#fff"},{"offset":0.65625,"color":"#fff"},{"offset":0.65625,"color":"#4472c4"},{"offset":0.6875,"color":"#4472c4"},{"offset":0.6875,"color":"#fff"},{"offset":0.71875,"color":"#fff"},{"offset":0.71875,"color":"#4472c4"},{"offset":0.75,"color":"#4472c4"},{"offset":0.75,"color":"#fff"},{"offset":0.78125,"color":"#fff"},{"offset":0.78125,"color":"#4472c4"},{"offset":0.8125,"color":"#4472c4"},{"offset":0.8125,"color":"#fff"},{"offset":0.84375,"color":"#fff"},{"offset":0.84375,"color":"#4472c4"},{"offset":0.875,"color":"#4472c4"},{"offset":0.875,"color":"#fff"},{"offset":0.90625,"color":"#fff"},{"offset":0.90625,"color":"#4472c4"},{"offset":0.9375,"color":"#4472c4"},{"offset":0.9375,"color":"#fff"},{"offset":0.96875,"color":"#fff"},{"offset":0.96875,"color":"#4472c4"},{"offset":1,"color":"#4472c4"}]}}
    }},
   {"transform": [{"filter": "datum.group === 'IA'"}],
    "mark": {"type": "bar", "fill": {"gradient": "linear", "x1": 0, "y1": 0, "x2": 1, "y2": 0, "stops": [{"offset":0,"color":"#fff"},{"offset":0.2,"color":"#fff"},{"offset":0.2,"color":"#000"},{"offset":0.4,"color":"#000"},{"offset":0.4,"color":"#fff"},{"offset":0.6,"color":"#fff"},{"offset":0.6,"color":"#000"},{"offset":0.8,"color":"#000"},{"offset":0.8,"color":"#fff"},{"offset":1,"color":"#fff"}]}},
    "encoding": {
     "xOffset": {"field": "group", "type": "nominal"},
     "y": {"field": "mean", "type": "quantitative", "title": null, "scale": {"domain": [0, 274], "nice": false, "zero": true}}
    }},
   {"transform": [{"filter": "datum.group === 'IA'"}],
    "mark": {"type": "bar", "blend": "difference"},
    "encoding": {
     "xOffset": {"field": "group", "type": "nominal"},
     "y": {"field": "mean", "type": "quantitative", "title": null, "scale": {"domain": [0, 274], "nice": false, "zero": true}},
     "fill": {"condition": [
      {"test": "datum.task === 'Task 1'", "value": {"gradient": "linear", "x1": 0, "y1": 1, "x2": 0, "y2": -33.06, "stops": [{"offset":0,"color":"#fff"},{"offset":0.0416667,"color":"#fff"},{"offset":0.0416667,"color":"#000"},{"offset":0.0833333,"color":"#000"},{"offset":0.0833333,"color":"#fff"},{"offset":0.125,"color":"#fff"},{"offset":0.125,"color":"#000"},{"offset":1,"color":"#000"}]}},
      {"test": "datum.task === 'Task 2'", "value": {"gradient": "linear", "x1": 0, "y1": 1, "x2": 0, "y2": -16.03, "stops": [{"offset":0,"color":"#fff"},{"offset":0.0416667,"color":"#fff"},{"offset":0.0416667,"color":"#000"},{"offset":0.0833333,"color":"#000"},{"offset":0.0833333,"color":"#fff"},{"offset":0.125,"color":"#fff"},{"offset":0.125,"color":"#000"},{"offset":1,"color":"#000"}]}}
     ],
     "value": {"gradient": "linear", "x1": 0, "y1": 1, "x2": 0, "y2": -44.41, "stops": [{"offset":0,"color":"#fff"},{"offset":0.0416667,"color":"#fff"},{"offset":0.0416667,"color":"#000"},{"offset":0.0833333,"color":"#000"},{"offset":0.0833333,"color":"#fff"},{"offset":0.125,"color":"#fff"},{"offset":0.125,"color":"#000"},{"offset":1,"color":"#000"}]}}
    }},
   {"transform": [{"filter": "datum.group === 'IA'"}],
    "mark": {"type": "bar", "fill": "#4472c4", "blend": "screen"},
    "encoding": {
     "xOffset": {"field": "group", "type": "nominal"},
     "y": {"field": "mean", "type": "quantitative", "title": null, "scale": {"domain": [0, 274], "nice": false, "zero": true}}
    }},
   {"mark": {"type": "bar", "filled": false, "stroke": "#000", "strokeWidth": 1.4},
    "encoding": {
     "xOffset": {"field": "group", "type": "nominal"},
     "y": {"field": "mean", "type": "quantitative", "title": null, "scale": {"domain": [0, 274], "nice": false, "zero": true}}
    }},
   {"mark": {"type": "rule", "color": "#7f7f7f", "strokeWidth": 1.5},
    "encoding": {
     "xOffset": {"field": "group", "type": "nominal"},
     "y": {"field": "mean", "type": "quantitative", "title": null, "scale": {"domain": [0, 274], "nice": false, "zero": true}},
     "y2": {"field": "upper"}
    }},
   {"mark": {"type": "tick", "color": "#7f7f7f", "size": 8, "thickness": 1.5},
    "encoding": {
     "xOffset": {"field": "group", "type": "nominal"},
     "y": {"field": "upper", "type": "quantitative", "title": null, "scale": {"domain": [0, 274], "nice": false, "zero": true}}
    }},
   {"mark": {"type": "text", "fontSize": 13, "fontWeight": "bold", "color": "#595959", "baseline": "alphabetic", "dy": -1},
    "encoding": {
     "xOffset": {"field": "group", "type": "nominal"},
     "y": {"field": "upper", "type": "quantitative", "title": null, "scale": {"domain": [0, 274], "nice": false, "zero": true}},
     "text": {"field": "label"}
    }},
   {"mark": {"type": "text", "fontSize": 11, "color": "#262626", "baseline": "middle", "dy": 13},
    "encoding": {
     "xOffset": {"field": "group", "type": "nominal"},
     "y": {"datum": 0, "type": "quantitative", "scale": {"domain": [0, 274], "nice": false, "zero": true}},
     "text": {"field": "group"}
    }},
   {"data": {"name": "relBr"},
    "mark": {"type": "line", "color": "#7f7f7f", "strokeWidth": 1.5},
    "encoding": {
     "xOffset": {"field": "group", "type": "nominal"},
     "y": {"field": "val", "type": "quantitative", "title": null, "scale": {"domain": [0, 274], "nice": false, "zero": true}},
     "order": {"field": "ord"},
     "detail": {"field": "task"}
    }},
   {"data": {"name": "relP"},
    "mark": {"type": "text", "fontSize": 11.5, "color": "#404040", "baseline": "middle", "dy": -11, "clip": true},
    "encoding": {
     "y": {"field": "level", "type": "quantitative", "title": null, "scale": {"domain": [0, 274], "nice": false, "zero": true}},
     "text": {"field": "p"}
    }}
  ]
 }
]
}
